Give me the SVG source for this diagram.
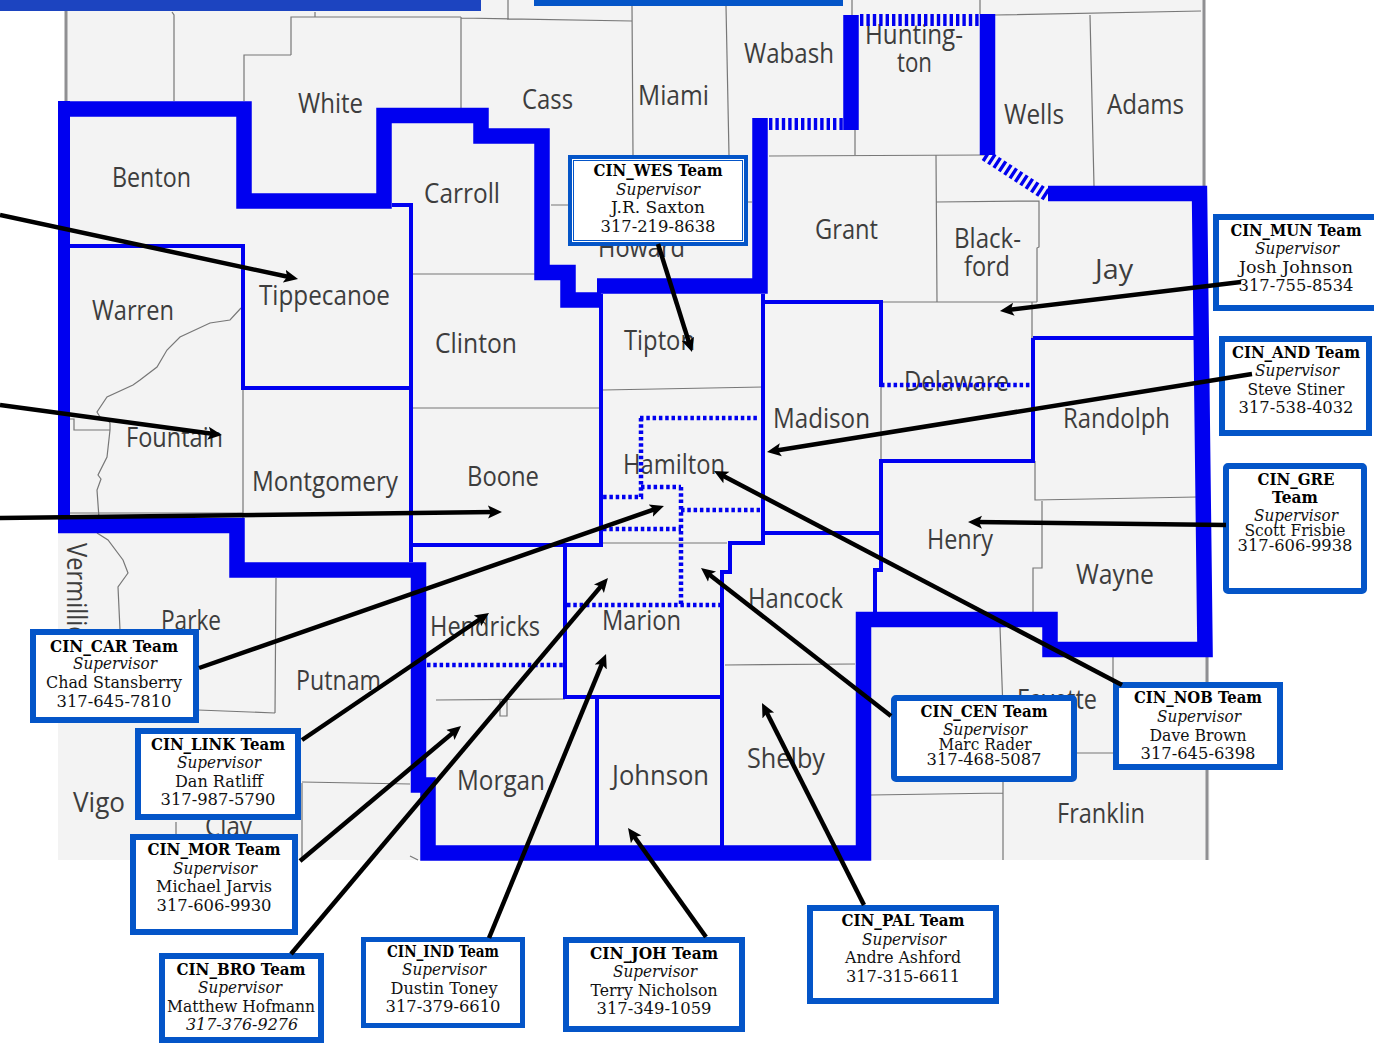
<svg xmlns="http://www.w3.org/2000/svg" width="1374" height="1043" viewBox="0 0 1374 1043">
<style>
.co{fill:none;stroke:#777;stroke-width:1.2}
.edge{fill:none;stroke:#8f8f92;stroke-width:3}
.thick{fill:none;stroke:#0000f0;stroke-width:15.5;stroke-linejoin:miter}
.thin{fill:none;stroke:#0000f0;stroke-width:4}
.dot{fill:none;stroke:#0000f0;stroke-width:4.500;stroke-dasharray:3.500 2.800}
.hat{fill:none;stroke:#0000f0;stroke-width:12;stroke-dasharray:3.400 3}
.lb{font-family:"Open Sans","Noto Sans",sans-serif;font-size:27px;fill:#3d3d3d}
.box{fill:#fff;stroke:#0455c8;stroke-width:6}
.t{font-family:"DejaVu Serif","Liberation Serif",serif;font-size:16px;fill:#111;text-anchor:middle}
.b{font-weight:700;fill:#000}
.i{font-style:italic}
.cn{fill:none;stroke:#000;stroke-width:4.500}
</style>
<defs>
<marker id="ah" markerUnits="userSpaceOnUse" markerWidth="18" markerHeight="16" refX="6" refY="8" orient="auto">
<path d="M0,1.500 L14,8 L0,14.500 L3,8 Z" fill="#000"/>
</marker>
</defs>
<g id="map">
<path d="M66,0H1205L1206,186L1210,860H58V520H66Z" fill="#f3f3f3"/>
<path class="edge" d="M66,11V101M1204,0V186M1207,657V860"/>
<path class="co" d="M172,12L174,15V101M291,55V17H461M315,12V17M244,101V55H291M461,17V108M461,18L632,21M508,0V20M632,6L633,155M726,6L729,155M855,130V155M852,0V15M980,0V14M769,156L985,155M995,15L1201,11M1090,15L1094,186M936,155L937,302M936,202L1039,201V247L1037,248V302M881,302H1037M1032,302V338M881,385V461M1035,461V500L1197,497M1042,501V568H1033V612M551,205H569M747,202H752M411,274H535M411,408H601M603,390L763,387M603,543H727M725,665L855,664M436,700L565,699M243,388V518M70,513H243M276,578L275,713M198,710L275,713M302,783V860M302,782L410,784M176,822V835M1000,627L1003,710V860M1113,657V683M871,795L1003,793M1077,753L1114,753M500,700V716H507V700M410,856L418,860"/>
<path class="co" d="M241,308L230,320L210,323L180,337L167,350L157,367L140,380L133,385L107,397L97,412L100,417L107,419L110,423V430L107,457L98,475L101,479L97,490L99,518M70,419H74V430H110M97,533L108,540L123,560L128,573L118,587L120,630" stroke-width="1"/>
<g id="county-labels">
<text class="lb" x="112" y="187" textLength="79" lengthAdjust="spacingAndGlyphs">Benton</text>
<text class="lb" x="298" y="113" textLength="65" lengthAdjust="spacingAndGlyphs">White</text>
<text class="lb" x="424" y="203" textLength="76" lengthAdjust="spacingAndGlyphs">Carroll</text>
<text class="lb" x="259" y="305" textLength="131" lengthAdjust="spacingAndGlyphs">Tippecanoe</text>
<text class="lb" x="92" y="320" textLength="82" lengthAdjust="spacingAndGlyphs">Warren</text>
<text class="lb" x="126" y="447" textLength="97" lengthAdjust="spacingAndGlyphs">Fountain</text>
<text class="lb" x="252" y="491" textLength="146" lengthAdjust="spacingAndGlyphs">Montgomery</text>
<text class="lb" x="467" y="486" textLength="72" lengthAdjust="spacingAndGlyphs">Boone</text>
<text class="lb" x="161" y="630" textLength="60" lengthAdjust="spacingAndGlyphs">Parke</text>
<text class="lb" x="296" y="690" textLength="85" lengthAdjust="spacingAndGlyphs">Putnam</text>
<text class="lb" x="430" y="636" textLength="110" lengthAdjust="spacingAndGlyphs">Hendricks</text>
<text class="lb" transform="translate(67,543) rotate(90)" textLength="112" lengthAdjust="spacingAndGlyphs">Vermillion</text>
<text class="lb" x="73" y="812" textLength="52" lengthAdjust="spacingAndGlyphs">Vigo</text>
<text class="lb" x="205" y="836" textLength="47" lengthAdjust="spacingAndGlyphs">Clay</text>
<text class="lb" x="457" y="790" textLength="88" lengthAdjust="spacingAndGlyphs">Morgan</text>
<text class="lb" x="612" y="785" textLength="97" lengthAdjust="spacingAndGlyphs">Johnson</text>
<text class="lb" x="747" y="768" textLength="78" lengthAdjust="spacingAndGlyphs">Shelby</text>
<text class="lb" x="602" y="630" textLength="79" lengthAdjust="spacingAndGlyphs">Marion</text>
<text class="lb" x="748" y="608" textLength="95" lengthAdjust="spacingAndGlyphs">Hancock</text>
<text class="lb" x="927" y="549" textLength="66" lengthAdjust="spacingAndGlyphs">Henry</text>
<text class="lb" x="1076" y="584" textLength="78" lengthAdjust="spacingAndGlyphs">Wayne</text>
<text class="lb" x="1063" y="428" textLength="107" lengthAdjust="spacingAndGlyphs">Randolph</text>
<text class="lb" x="773" y="428" textLength="97" lengthAdjust="spacingAndGlyphs">Madison</text>
<text class="lb" x="623" y="474" textLength="102" lengthAdjust="spacingAndGlyphs">Hamilton</text>
<text class="lb" x="624" y="350" textLength="71" lengthAdjust="spacingAndGlyphs">Tipton</text>
<text class="lb" x="904" y="391" textLength="105" lengthAdjust="spacingAndGlyphs">Delaware</text>
<text class="lb" x="1095" y="279" textLength="38" lengthAdjust="spacingAndGlyphs">Jay</text>
<text class="lb" x="1004" y="124" textLength="60" lengthAdjust="spacingAndGlyphs">Wells</text>
<text class="lb" x="1107" y="114" textLength="77" lengthAdjust="spacingAndGlyphs">Adams</text>
<text class="lb" x="954" y="248" textLength="67" lengthAdjust="spacingAndGlyphs">Black-</text>
<text class="lb" x="964" y="276" textLength="46" lengthAdjust="spacingAndGlyphs">ford</text>
<text class="lb" x="865" y="44" textLength="98" lengthAdjust="spacingAndGlyphs">Hunting-</text>
<text class="lb" x="897" y="72" textLength="35" lengthAdjust="spacingAndGlyphs">ton</text>
<text class="lb" x="744" y="63" textLength="90" lengthAdjust="spacingAndGlyphs">Wabash</text>
<text class="lb" x="638" y="105" textLength="71" lengthAdjust="spacingAndGlyphs">Miami</text>
<text class="lb" x="522" y="109" textLength="51" lengthAdjust="spacingAndGlyphs">Cass</text>
<text class="lb" x="815" y="239" textLength="63" lengthAdjust="spacingAndGlyphs">Grant</text>
<text class="lb" x="598" y="257" textLength="87" lengthAdjust="spacingAndGlyphs">Howard</text>
<text class="lb" x="435" y="353" textLength="82" lengthAdjust="spacingAndGlyphs">Clinton</text>
<text class="lb" x="1017" y="709" textLength="80" lengthAdjust="spacingAndGlyphs">Fayette</text>
<text class="lb" x="1057" y="823" textLength="88" lengthAdjust="spacingAndGlyphs">Franklin</text>
</g>
<path class="thin" d="M70,246H243V388H410M392,205H411V562M601,294V545H411M763,294V543H730V572H722V846M763,302H881V387M1033,338H1195M1033,338V461H881V570H875V612M763,533H881M565,545V697H722M597,697V846"/>
<path class="dot" d="M881,385H1030M427,665H563M567,605H722M681,487V605M640,418H757M641,418V497H603M641,487H681M681,510H760M603,529H681"/>
<path class="hat" d="M769,124H843M860,20H980M985,155L1048,196"/>
<path class="thick" d="M58,109H244V201H384V115.500H481V136H542V272.500H568V300H601M597,286H760V118M851,130V15M987.500,14V155M1048,193.500H1199.500L1205,649.500H1050V619.500H863.500V853H428V785H418.500V570H237V525.500H58"/>
<path d="M58,101H70V532H58Z" fill="#0000f0"/>
</g>
<rect id="top-bar-left" x="0" y="0" width="481" height="11" fill="#1c44c0"/>
<rect id="top-bar-right" x="534" y="0" width="309" height="6" fill="#0455c8"/>
<g id="CIN_WES">
<rect class="box" x="570" y="157" width="176" height="87" style="stroke-width:4"/>
<rect x="573.500" y="160.500" width="169" height="80" fill="none" stroke="#0455c8" stroke-width="1"/>
<text class="t b" x="658" y="176" textLength="129" lengthAdjust="spacingAndGlyphs">CIN_WES Team</text>
<text class="t i" x="658" y="195" textLength="84" lengthAdjust="spacingAndGlyphs">Supervisor</text>
<text class="t" x="658" y="213" textLength="94" lengthAdjust="spacingAndGlyphs">J.R. Saxton</text>
<text class="t" x="658" y="232" textLength="115" lengthAdjust="spacingAndGlyphs">317-219-8638</text>
</g>
<g id="CIN_MUN">
<rect class="box" x="1216" y="217" width="161" height="91"/>
<text class="t b" x="1296" y="236" textLength="131" lengthAdjust="spacingAndGlyphs">CIN_MUN Team</text>
<text class="t i" x="1297" y="254" textLength="84" lengthAdjust="spacingAndGlyphs">Supervisor</text>
<text class="t" x="1296" y="273" textLength="114" lengthAdjust="spacingAndGlyphs">Josh Johnson</text>
<text class="t" x="1296" y="291" textLength="115" lengthAdjust="spacingAndGlyphs">317-755-8534</text>
</g>
<g id="CIN_AND">
<rect class="box" x="1222" y="339" width="147" height="94"/>
<text class="t b" x="1296" y="358" textLength="128" lengthAdjust="spacingAndGlyphs">CIN_AND Team</text>
<text class="t i" x="1297" y="376" textLength="84" lengthAdjust="spacingAndGlyphs">Supervisor</text>
<text class="t" x="1296" y="395" textLength="97" lengthAdjust="spacingAndGlyphs">Steve Stiner</text>
<text class="t" x="1296" y="413" textLength="115" lengthAdjust="spacingAndGlyphs">317-538-4032</text>
</g>
<g id="CIN_GRE">
<rect class="box" x="1226" y="466" width="138" height="125" rx="2"/>
<text class="t b" x="1296" y="485" textLength="77" lengthAdjust="spacingAndGlyphs">CIN_GRE</text>
<text class="t b" x="1295" y="503" textLength="46" lengthAdjust="spacingAndGlyphs">Team</text>
<text class="t i" x="1296" y="521" textLength="84" lengthAdjust="spacingAndGlyphs">Supervisor</text>
<text class="t" x="1295" y="536" textLength="101" lengthAdjust="spacingAndGlyphs">Scott Frisbie</text>
<text class="t" x="1295" y="551" textLength="115" lengthAdjust="spacingAndGlyphs">317-606-9938</text>
</g>
<g id="CIN_NOB">
<rect class="box" x="1116" y="685" width="164" height="82"/>
<text class="t b" x="1198" y="703" textLength="128" lengthAdjust="spacingAndGlyphs">CIN_NOB Team</text>
<text class="t i" x="1199" y="722" textLength="84" lengthAdjust="spacingAndGlyphs">Supervisor</text>
<text class="t" x="1198" y="741" textLength="97" lengthAdjust="spacingAndGlyphs">Dave Brown</text>
<text class="t" x="1198" y="759" textLength="115" lengthAdjust="spacingAndGlyphs">317-645-6398</text>
</g>
<g id="CIN_CEN">
<rect class="box" x="894" y="698" width="180" height="81" rx="2"/>
<text class="t b" x="984" y="717" textLength="127" lengthAdjust="spacingAndGlyphs">CIN_CEN Team</text>
<text class="t i" x="985" y="735" textLength="84" lengthAdjust="spacingAndGlyphs">Supervisor</text>
<text class="t" x="985" y="750" textLength="93" lengthAdjust="spacingAndGlyphs">Marc Rader</text>
<text class="t" x="984" y="765" textLength="115" lengthAdjust="spacingAndGlyphs">317-468-5087</text>
</g>
<g id="CIN_PAL">
<rect class="box" x="810" y="908" width="186" height="93"/>
<text class="t b" x="903" y="926" textLength="123" lengthAdjust="spacingAndGlyphs">CIN_PAL Team</text>
<text class="t i" x="904" y="945" textLength="84" lengthAdjust="spacingAndGlyphs">Supervisor</text>
<text class="t" x="903" y="963" textLength="116" lengthAdjust="spacingAndGlyphs">Andre Ashford</text>
<text class="t" x="903" y="982" textLength="114" lengthAdjust="spacingAndGlyphs">317-315-6611</text>
</g>
<g id="CIN_JOH">
<rect class="box" x="566" y="940" width="176" height="89"/>
<text class="t b" x="654" y="959" textLength="128" lengthAdjust="spacingAndGlyphs">CIN_JOH Team</text>
<text class="t i" x="655" y="977" textLength="84" lengthAdjust="spacingAndGlyphs">Supervisor</text>
<text class="t" x="654" y="996" textLength="127" lengthAdjust="spacingAndGlyphs">Terry Nicholson</text>
<text class="t" x="654" y="1014" textLength="115" lengthAdjust="spacingAndGlyphs">317-349-1059</text>
</g>
<g id="CIN_IND">
<rect class="box" x="363.500" y="939.500" width="159" height="86" style="stroke-width:5"/>
<text class="t b" x="443" y="957" textLength="112" lengthAdjust="spacingAndGlyphs">CIN_IND Team</text>
<text class="t i" x="444" y="975" textLength="84" lengthAdjust="spacingAndGlyphs">Supervisor</text>
<text class="t" x="444" y="994" textLength="107" lengthAdjust="spacingAndGlyphs">Dustin Toney</text>
<text class="t" x="443" y="1012" textLength="115" lengthAdjust="spacingAndGlyphs">317-379-6610</text>
</g>
<g id="CIN_BRO">
<rect class="box" x="162" y="956" width="159" height="84"/>
<text class="t b" x="241" y="975" textLength="129" lengthAdjust="spacingAndGlyphs">CIN_BRO Team</text>
<text class="t i" x="240" y="993" textLength="84" lengthAdjust="spacingAndGlyphs">Supervisor</text>
<text class="t" x="241" y="1012" textLength="148" lengthAdjust="spacingAndGlyphs">Matthew Hofmann</text>
<text class="t i" x="242" y="1030" textLength="112" lengthAdjust="spacingAndGlyphs">317-376-9276</text>
</g>
<g id="CIN_MOR">
<rect class="box" x="133" y="837" width="162" height="95"/>
<text class="t b" x="214" y="855" textLength="133" lengthAdjust="spacingAndGlyphs">CIN_MOR Team</text>
<text class="t i" x="215" y="874" textLength="84" lengthAdjust="spacingAndGlyphs">Supervisor</text>
<text class="t" x="214" y="892" textLength="116" lengthAdjust="spacingAndGlyphs">Michael Jarvis</text>
<text class="t" x="214" y="911" textLength="115" lengthAdjust="spacingAndGlyphs">317-606-9930</text>
</g>
<g id="CIN_LINK">
<rect class="box" x="138" y="731" width="160" height="86"/>
<text class="t b" x="218" y="750" textLength="134" lengthAdjust="spacingAndGlyphs">CIN_LINK Team</text>
<text class="t i" x="219" y="768" textLength="84" lengthAdjust="spacingAndGlyphs">Supervisor</text>
<text class="t" x="219" y="787" textLength="88" lengthAdjust="spacingAndGlyphs">Dan Ratliff</text>
<text class="t" x="218" y="805" textLength="115" lengthAdjust="spacingAndGlyphs">317-987-5790</text>
</g>
<g id="CIN_CAR">
<rect class="box" x="33" y="632" width="163" height="88"/>
<text class="t b" x="114" y="652" textLength="128" lengthAdjust="spacingAndGlyphs">CIN_CAR Team</text>
<text class="t i" x="115" y="669" textLength="84" lengthAdjust="spacingAndGlyphs">Supervisor</text>
<text class="t" x="114" y="688" textLength="136" lengthAdjust="spacingAndGlyphs">Chad Stansberry</text>
<text class="t" x="114" y="707" textLength="115" lengthAdjust="spacingAndGlyphs">317-645-7810</text>
</g>
<g id="connectors">
<line class="cn" marker-end="url(#ah)" x1="0" y1="215" x2="290.200" y2="277.300"/>
<line class="cn" marker-end="url(#ah)" x1="0" y1="405" x2="214" y2="434"/>
<line class="cn" marker-end="url(#ah)" x1="0" y1="518" x2="494" y2="512"/>
<line class="cn" marker-end="url(#ah)" x1="199" y1="668" x2="656.400" y2="508.600"/>
<line class="cn" marker-end="url(#ah)" x1="302" y1="740" x2="482.400" y2="617.500"/>
<line class="cn" marker-end="url(#ah)" x1="300" y1="861" x2="454.900" y2="731.100"/>
<line class="cn" marker-end="url(#ah)" x1="291" y1="954" x2="602.800" y2="584.100"/>
<line class="cn" marker-end="url(#ah)" x1="489" y1="938" x2="603" y2="661.400"/>
<line class="cn" marker-end="url(#ah)" x1="706" y1="937" x2="632.700" y2="834.500"/>
<line class="cn" marker-end="url(#ah)" x1="864" y1="905" x2="765.600" y2="710.200"/>
<line class="cn" marker-end="url(#ah)" x1="891" y1="716" x2="707.300" y2="572.900"/>
<line class="cn" marker-end="url(#ah)" x1="1122" y1="685" x2="721.100" y2="474.700"/>
<line class="cn" marker-end="url(#ah)" x1="1226" y1="525" x2="976" y2="522.100"/>
<line class="cn" marker-end="url(#ah)" x1="1252" y1="374" x2="774.900" y2="450.700"/>
<line class="cn" marker-end="url(#ah)" x1="1241" y1="282" x2="1007.900" y2="310"/>
<line class="cn" marker-end="url(#ah)" x1="658" y1="244" x2="689.600" y2="344.400"/>
</g>
</svg>
